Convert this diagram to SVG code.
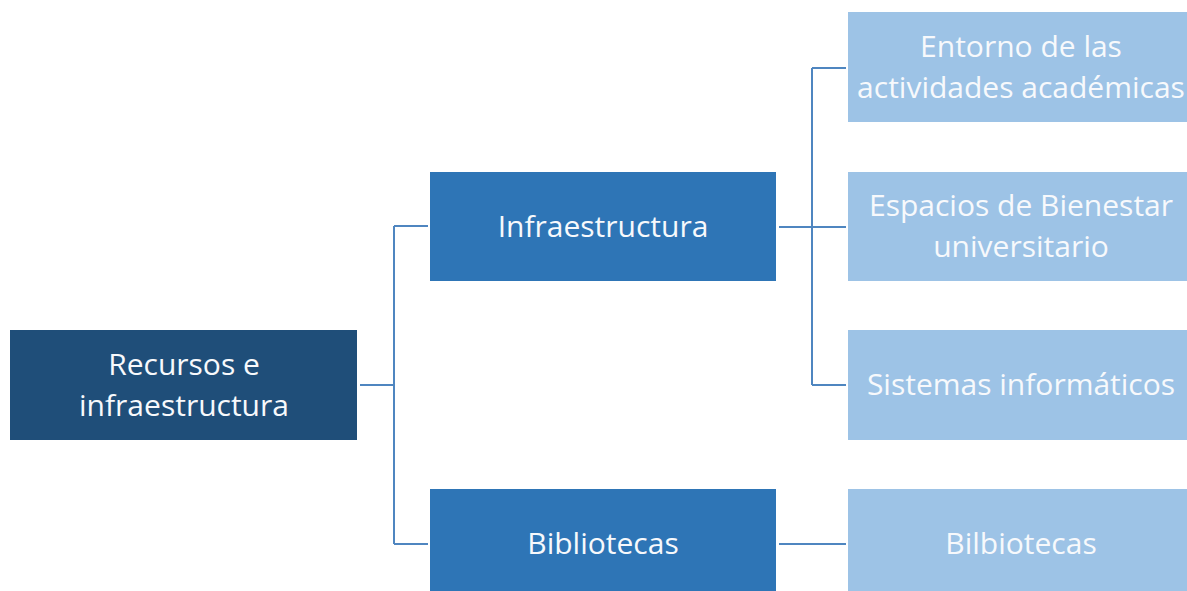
<svg xmlns="http://www.w3.org/2000/svg" width="1187" height="591" viewBox="0 0 1187 591">
<style>
.t{font-family:"Open Sans","Noto Sans",sans-serif;font-size:30px;fill:#F7F9FC;text-anchor:middle}
.root{fill:#1F4E79}
.mid{fill:#2E75B6}
.leaf{fill:#9DC3E6}
.c{fill:none;stroke:#4F86C0;stroke-width:2}
</style>
<rect width="1187" height="591" fill="#FFFFFF"/>
<g id="connectors">
<path class="c" d="M360 385 H394 M394 226 V544 M394 226 H428 M394 544 H428"/>
<path class="c" d="M779 227 H846 M812 68 V385 M812 68 H846 M812 385 H846"/>
<path class="c" d="M779 544 H846"/>
</g>
<g id="n-root"><rect class="root" x="10" y="330" width="347" height="110"/>
<text class="t" x="184" y="375">Recursos e</text><text class="t" x="184" y="416">infraestructura</text></g>
<g id="n-infra"><rect class="mid" x="430" y="172" width="346" height="109"/>
<text class="t" x="603" y="237">Infraestructura</text></g>
<g id="n-bib"><rect class="mid" x="430" y="489" width="346" height="102"/>
<text class="t" x="603" y="554">Bibliotecas</text></g>
<g id="n-entorno"><rect class="leaf" x="848" y="12" width="346" height="110"/>
<text class="t" x="1021" y="57">Entorno de las</text><text class="t" x="1021" y="98">actividades académicas</text></g>
<g id="n-espacios"><rect class="leaf" x="848" y="172" width="346" height="109"/>
<text class="t" x="1021" y="216">Espacios de Bienestar</text><text class="t" x="1021" y="257">universitario</text></g>
<g id="n-sistemas"><rect class="leaf" x="848" y="330" width="346" height="110"/>
<text class="t" x="1021" y="395">Sistemas informáticos</text></g>
<g id="n-bilbio"><rect class="leaf" x="848" y="489" width="346" height="102"/>
<text class="t" x="1021" y="554">Bilbiotecas</text></g>
</svg>
